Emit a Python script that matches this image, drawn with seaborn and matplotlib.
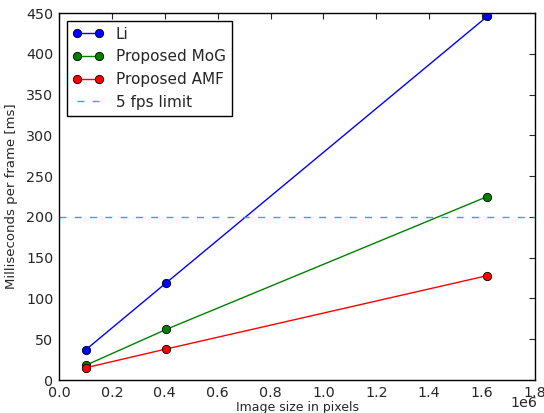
import matplotlib
matplotlib.use("Agg")
import matplotlib.pyplot as plt
import seaborn as sns
import pandas as pd

image_sizes = [0.101e6, 0.405e6, 1.62e6]
li_ms = [37, 119, 446]
mog_ms = [18, 62, 225]
amf_ms = [15, 38, 128]
fps_limit_ms = 200
series_names = ["Li", "Proposed MoG", "Proposed AMF"]
series_colors = ["blue", "green", "red"]

sns.set_style("white")
plt.rcParams['font.family'] = ['DejaVu Sans']
plt.rcParams.update({
    "xtick.direction": "in", "ytick.direction": "in",
    "xtick.top": True, "ytick.right": True,
    "xtick.major.size": 4, "ytick.major.size": 4,
    "xtick.major.pad": 4, "ytick.major.pad": 4,
    "xtick.labelsize": 10.3, "ytick.labelsize": 10.3,
    "axes.linewidth": 1.0, "axes.edgecolor": "black",
})

df = pd.DataFrame({
    "x": image_sizes * 3,
    "y": li_ms + mog_ms + amf_ms,
    "series": [n for n in series_names for _ in image_sizes],
})

fig = plt.figure(figsize=(5.44, 4.13), dpi=100)
ax = fig.add_axes([59/544, 1 - 380/413, (535-59)/544, (380-13)/413])

for name, col in zip(series_names, series_colors):
    sub = df[df.series == name]
    sns.lineplot(data=sub, x="x", y="y", ax=ax, color=col, marker="o",
                 markersize=6, markeredgecolor="black", markeredgewidth=0.6,
                 linewidth=1.0, label=name)
ax.axhline(fps_limit_ms, color="#00bfbf", linestyle="--", linewidth=1.0,
           dashes=(5, 6), label="5 fps limit")

ax.set_xlim(0, 1.8e6)
ax.set_ylim(0, 450)
ax.set_xticks([0, 0.2e6, 0.4e6, 0.6e6, 0.8e6, 1.0e6, 1.2e6, 1.4e6, 1.6e6, 1.8e6])
ax.set_xticklabels(["0.0", "0.2", "0.4", "0.6", "0.8", "1.0", "1.2", "1.4", "1.6", "1.8"])
ax.set_yticks(range(0, 451, 50))
fig.text(537/544, 1 - 403/413, "1e6", ha="right", va="center", fontsize=10.3)
ax.set_xlabel("Image size in pixels", fontsize=9, labelpad=1)
ax.set_ylabel("Milliseconds per frame [ms]", fontsize=9.5, labelpad=6)
for s in ax.spines.values():
    s.set_visible(True)
    s.set_color("black")

leg = ax.legend(loc="upper left", fontsize=11, numpoints=2, fancybox=False,
                framealpha=1, edgecolor="black", handlelength=2.0,
                handletextpad=0.8, borderaxespad=0.5, labelspacing=0.5)
leg.get_frame().set_linewidth(1.0)

fig.savefig("out.png", dpi=100)
